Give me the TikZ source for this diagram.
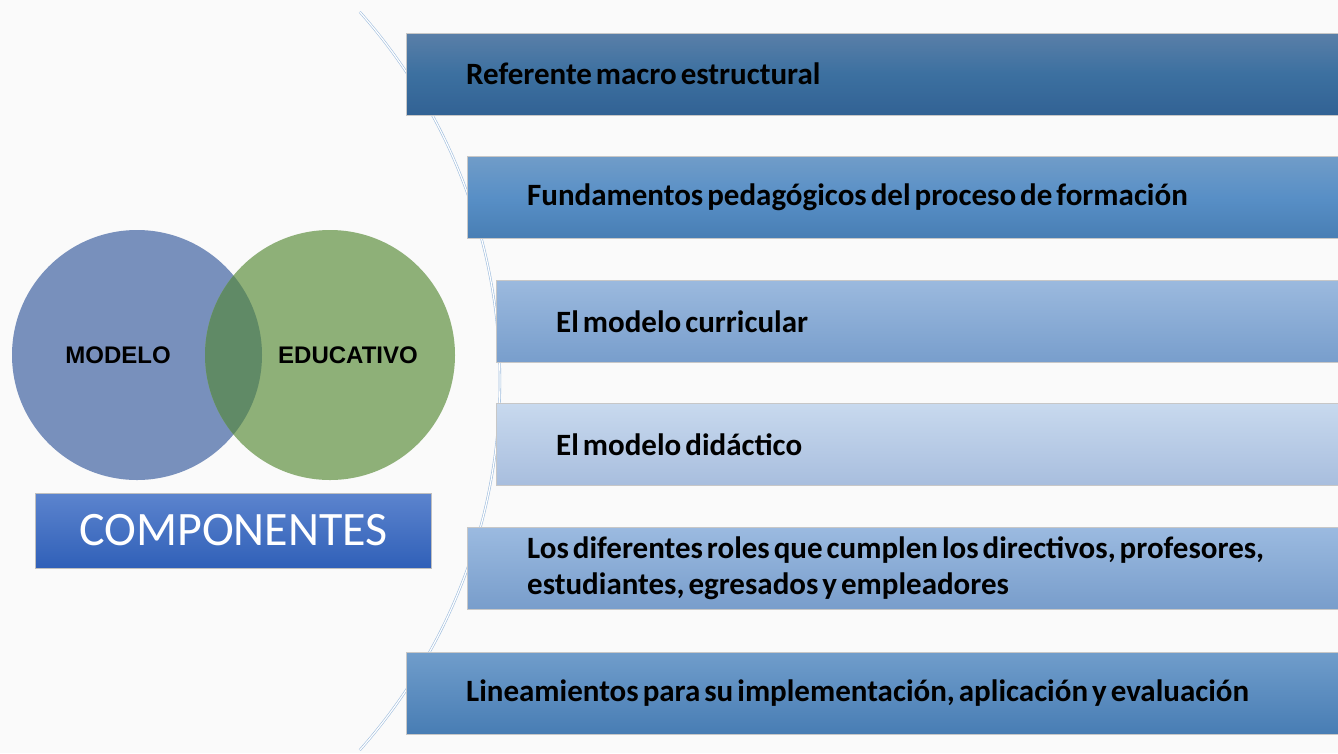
\documentclass[tikz,border=0pt]{standalone}
\usepackage{fontspec}
\setmainfont{Carlito}
\newfontfamily\arialfont{Liberation Sans}
\usetikzlibrary{positioning}

\definecolor{bgcol}{RGB}{250,250,250}
\definecolor{arcblue}{RGB}{160,190,222}
\definecolor{modblue}{RGB}{120,144,188}
\definecolor{edugreen}{RGB}{142,176,120}
\definecolor{overlap}{RGB}{96,138,102}
\definecolor{compA}{RGB}{92,132,206}
\definecolor{compB}{RGB}{48,96,184}

\begin{document}
\begin{tikzpicture}[x=1pt, y=1pt]

   \tikzstyle{item}=[rectangle, draw=black!22, thin, anchor=west, minimum height=82pt, inner xsep=60pt, inner ysep=0pt, align=left, text=black, font=\fontsize{31}{36}\selectfont\bfseries, execute at begin node={\spaceskip=4pt\relax}, shading=axis, shading angle=0]
   \tikzstyle{circ}=[circle, minimum size=250pt, inner sep=0pt]
   \tikzstyle{circlabel}=[text=black, font=\arialfont\fontsize{24}{28}\selectfont\bfseries]

   % background and frame
   \fill[bgcol] (0,0) rectangle (1338,-753);
   \useasboundingbox (0,0) rectangle (1338,-753);

   % the arc behind the items
   \draw[arcblue, double=white, double distance=1.2pt, line width=0.6pt] (-56,-381) ++(41.6:556) arc (41.6:-41.6:556);

   % the six items
   \node[item, text width=812pt, top color={rgb,255:red,90;green,127;blue,168}, bottom color={rgb,255:red,50;green,98;blue,148}, middle color={rgb,255:red,60;green,112;blue,160}] (ref) at (406,-74) {Referente macro estructural};
   \node[item, text width=751pt, top color={rgb,255:red,112;green,156;blue,200}, bottom color={rgb,255:red,72;green,126;blue,180}, middle color={rgb,255:red,88;green,143;blue,198}] (fund) at (467,-197.5) {Fundamentos pedagógicos del proceso de formación};
   \node[item, text width=722pt, top color={rgb,255:red,155;green,185;blue,222}, bottom color={rgb,255:red,120;green,158;blue,204}] (curr) at (496,-321.5) {El modelo curricular};
   \node[item, text width=722pt, top color={rgb,255:red,200;green,217;blue,238}, bottom color={rgb,255:red,168;green,190;blue,222}] (did) at (496,-444.5) {El modelo didáctico};
   \node[item, text width=751pt, top color={rgb,255:red,155;green,186;blue,224}, bottom color={rgb,255:red,120;green,157;blue,203}] (roles) at (467,-568.5) {Los diferentes roles que cumplen los directivos, profesores,\\estudiantes, egresados y empleadores};
   \node[item, text width=812pt, top color={rgb,255:red,112;green,157;blue,203}, bottom color={rgb,255:red,72;green,125;blue,180}] (lin) at (406,-693) {Lineamientos para su implementación, aplicación y evaluación};

   % the two circles
   \node[circ, fill=modblue] (mod) at (137,-355) {};
   \node[circ, fill=edugreen] (edu) at (330,-355) {};
   \begin{scope}
      \clip (mod.center) circle (125pt);
      \fill[overlap] (edu.center) circle (125pt);
   \end{scope}
   \node[circlabel] (modtxt) at (118,-355) {MODELO};
   \node[circlabel] (edutxt) at (348,-355) {EDUCATIVO};

   % title box
   \node[rectangle, draw=black!25, thin, minimum width=396pt, minimum height=75pt, top color=compA, bottom color=compB, text=white, font=\fontsize{48}{52}\selectfont] (comp) at (233.5,-530.5) {COMPONENTES};

\end{tikzpicture}
\end{document}
